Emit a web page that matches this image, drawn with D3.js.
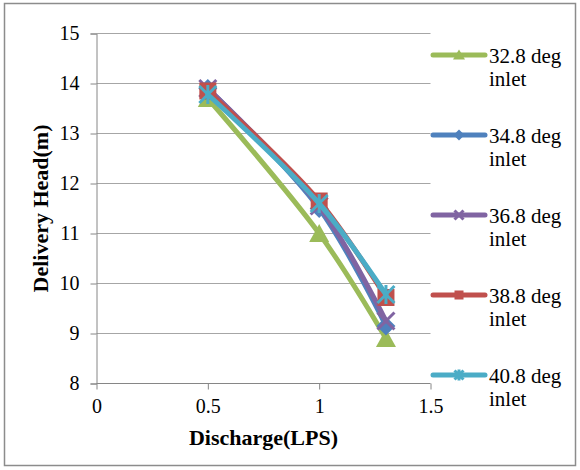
<!DOCTYPE html>
<html><head><meta charset="utf-8">
<script src="https://cdn.jsdelivr.net/npm/d3@7"></script>
<style>body{margin:0;background:#fff}svg{display:block}</style>
</head><body><svg id="c" width="580" height="470"></svg>
<script>
const discharge = [0.5, 1.0, 1.3];
const seriesNames = ["32.8 deg inlet", "34.8 deg inlet", "36.8 deg inlet", "38.8 deg inlet", "40.8 deg inlet"];
const head328 = [13.7, 11.0, 8.9];
const head348 = [13.9, 11.5, 9.15];
const head368 = [13.9, 11.55, 9.25];
const head388 = [13.85, 11.65, 9.72];
const head408 = [13.78, 11.6, 9.78];
const xTicks = [0, 0.5, 1, 1.5];
const yTicks = [8, 9, 10, 11, 12, 13, 14, 15];
const colors = ["#9BBB59", "#4F81BD", "#8064A2", "#C0504D", "#4BACC6"];
const markers = ["triangle", "diamond", "x", "square", "star"];
const allSeries = [head328, head348, head368, head388, head408];
const FONT = "'Liberation Serif', 'Times New Roman', serif";

const svg = d3.select("#c");
svg.append("rect").attr("x",4.5).attr("y",3.5).attr("width",571).attr("height",462).attr("fill","#fff").attr("stroke","#8c8c8c").attr("stroke-width",1.5);

const x = d3.scaleLinear().domain([0,1.5]).range([96.5,430.5]);
const y = d3.scaleLinear().domain([8,15]).range([383.5,33.5]);

svg.append("g").selectAll("line").data(yTicks.slice(1)).join("line")
  .attr("x1",x(0)).attr("x2",x(1.5)).attr("y1",d=>y(d)).attr("y2",d=>y(d))
  .attr("stroke","#a6a6a6").attr("stroke-width",1);

const yAxis = svg.append("g").attr("transform",`translate(${x(0)},0)`)
  .call(d3.axisLeft(y).tickValues(yTicks).tickSize(6).tickPadding(11).tickFormat(d3.format("d")));
const xAxis = svg.append("g").attr("transform",`translate(0,${y(8)})`)
  .call(d3.axisBottom(x).tickValues(xTicks).tickSize(6).tickPadding(9).tickFormat(d=>String(d)));
[yAxis,xAxis].forEach(a=>{
  a.attr("font-family",FONT).attr("font-size",20);
  a.select(".domain").attr("stroke","#868686").attr("stroke-width",1);
  a.selectAll(".tick line").attr("stroke","#868686");
  a.selectAll("text").attr("fill","#000");
});
xAxis.select(".domain").attr("d",`M${x(0)},0H${x(1.5)}`);

svg.append("text").attr("transform",`translate(48,${(y(8)+y(15))/2}) rotate(-90)`)
  .attr("font-family",FONT).attr("font-size",22).attr("font-weight","bold")
  .attr("text-anchor","middle").text("Delivery Head(m)");
svg.append("text").attr("x",(x(0)+x(1.5))/2).attr("y",445)
  .attr("font-family",FONT).attr("font-size",22).attr("font-weight","bold")
  .attr("text-anchor","middle").text("Discharge(LPS)");

function drawMarker(g, type, color, cx, cy, s){
  const h = s/2;
  if(type==="triangle"){
    g.append("path").attr("d",`M${cx},${cy-h-1}L${cx+h+1.5},${cy+h}L${cx-h-1.5},${cy+h}Z`).attr("fill",color);
  } else if(type==="diamond"){
    g.append("path").attr("d",`M${cx},${cy-h-1}L${cx+h+1},${cy}L${cx},${cy+h+1}L${cx-h-1},${cy}Z`).attr("fill",color);
  } else if(type==="square"){
    g.append("rect").attr("x",cx-h).attr("y",cy-h).attr("width",s).attr("height",s).attr("fill",color);
  } else if(type==="x"){
    g.append("path").attr("d",`M${cx-h},${cy-h}L${cx+h},${cy+h}M${cx+h},${cy-h}L${cx-h},${cy+h}`).attr("stroke",color).attr("stroke-width",3);
  } else if(type==="star"){
    g.append("path").attr("d",`M${cx-h},${cy-h}L${cx+h},${cy+h}M${cx+h},${cy-h}L${cx-h},${cy+h}M${cx},${cy-h-1}L${cx},${cy+h+1}`).attr("stroke",color).attr("stroke-width",3);
  }
}

const line = d3.line().x(d=>x(d[0])).y(d=>y(d[1])).curve(d3.curveCatmullRom.alpha(0.5));
allSeries.forEach((vals,i)=>{
  const g = svg.append("g");
  const pts = discharge.map((d,j)=>[d,vals[j]]);
  g.append("path").datum(pts).attr("d",line).attr("fill","none").attr("stroke",colors[i]).attr("stroke-width",5).attr("stroke-linecap","round");
  pts.forEach(p=>drawMarker(g, markers[i], colors[i], x(p[0]), y(p[1]), 17));
});

const legY = [55, 135, 215, 295, 375];
seriesNames.forEach((name,i)=>{
  const g = svg.append("g");
  const ly = legY[i];
  g.append("line").attr("x1",433).attr("x2",485).attr("y1",ly).attr("y2",ly).attr("stroke",colors[i]).attr("stroke-width",5).attr("stroke-linecap","round");
  drawMarker(g, markers[i], colors[i], 459, ly, 9);
  const parts = name.split(" ");
  const t = g.append("text").attr("font-family",FONT).attr("font-size",21).attr("fill","#000");
  t.append("tspan").attr("x",489).attr("y",ly+8).text(parts[0]+" "+parts[1]);
  t.append("tspan").attr("x",489).attr("y",ly+31).text(parts[2]);
});
</script></body></html>
